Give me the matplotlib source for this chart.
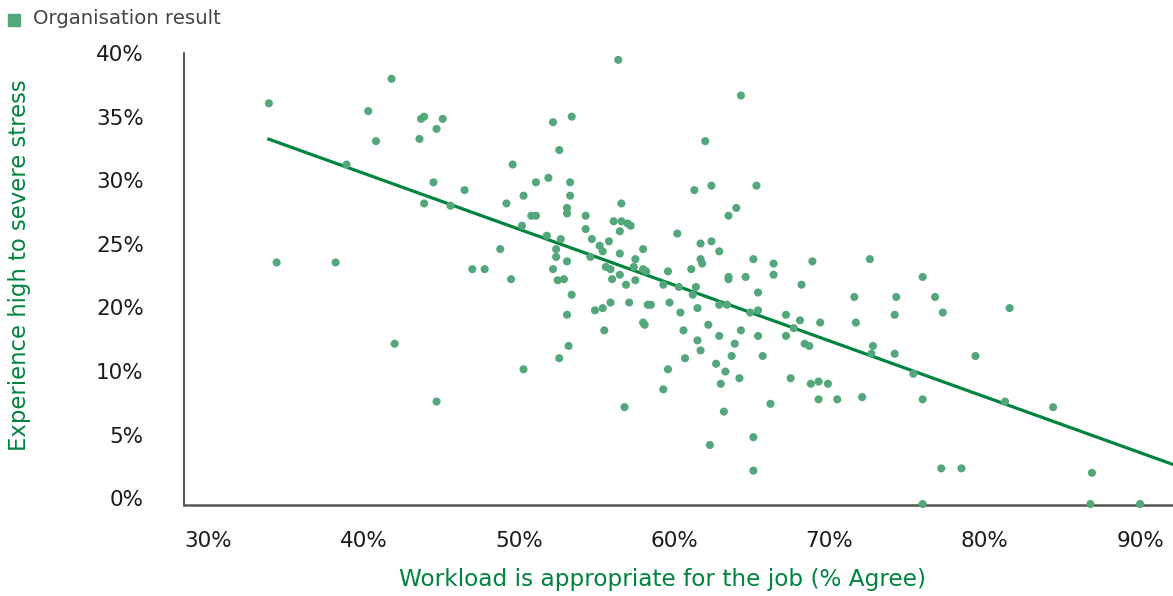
import numpy as np
import matplotlib
matplotlib.use("Agg")
import matplotlib.pyplot as plt
from matplotlib.transforms import ScaledTranslation
from matplotlib.patches import Rectangle

# Workload appropriate (% agree) vs. high-to-severe stress (%), one point per organisation
workload_agree = [
    33.9, 41.8, 40.3, 43.7, 43.9, 45.1, 44.7, 40.8, 43.6, 38.9,
    49.6, 44.5, 46.5, 43.9, 45.6, 49.2, 50.2, 48.8, 34.4, 38.2,
    47.0, 47.8, 49.5, 42.0, 44.7, 56.4, 64.3, 52.2, 53.4, 52.6,
    62.0, 51.9, 51.1, 53.3, 53.3, 50.3, 61.3, 62.4, 65.3, 56.6,
    53.1, 53.1, 50.8, 51.1, 54.3, 63.5, 64.0, 56.1, 56.6, 57.0,
    57.2, 56.5, 54.3, 51.8, 52.7, 52.4, 52.4, 54.7, 55.8, 55.2,
    55.4, 54.6, 56.5, 58.0, 57.5, 60.2, 61.7, 62.4, 62.9, 61.7,
    61.8, 65.1, 66.4, 68.9, 53.1, 52.2, 55.6, 55.9, 57.4, 58.0,
    58.2, 59.6, 61.1, 56.5, 63.5, 63.5, 64.6, 66.4, 52.9, 52.5,
    56.0, 57.5, 53.4, 53.1, 53.2, 52.6, 50.3, 56.9, 55.9, 55.4,
    54.9, 57.1, 58.3, 58.5, 55.5, 58.0, 58.1, 59.3, 59.7, 60.3,
    61.4, 61.2, 61.5, 60.4, 60.6, 62.2, 62.9, 63.4, 61.5, 61.7,
    60.7, 59.6, 59.3, 56.8, 62.9, 63.9, 64.3, 63.7, 62.7, 63.3,
    63.0, 64.2, 63.2, 62.3, 65.1, 65.1, 65.4, 64.9, 65.4, 65.4,
    65.7, 66.2, 67.2, 67.2, 67.7, 68.1, 68.2, 68.4, 68.7, 69.4,
    67.5, 68.8, 69.3, 69.9, 69.3, 70.5, 72.6, 76.0, 71.6, 74.3,
    76.8, 71.7, 74.2, 77.3, 81.6, 72.8, 72.7, 74.2, 75.4, 79.4,
    72.1, 76.0, 81.3, 84.4, 77.2, 78.5, 86.9, 76.0, 86.8, 90.0,
]
high_stress = [
    36.0, 38.2, 35.3, 34.6, 34.8, 34.6, 33.7, 32.6, 32.8, 30.5,
    30.5, 28.9, 28.2, 27.0, 26.8, 27.0, 25.0, 22.9, 21.7, 21.7,
    21.1, 21.1, 20.2, 14.4, 9.2, 39.9, 36.7, 34.3, 34.8, 31.8,
    32.6, 29.3, 28.9, 28.9, 27.7, 27.7, 28.2, 28.6, 28.6, 27.0,
    26.6, 26.1, 25.9, 25.9, 25.9, 25.9, 26.6, 25.4, 25.4, 25.2,
    25.0, 24.5, 24.7, 24.1, 23.8, 22.9, 22.2, 23.8, 23.6, 23.2,
    22.7, 22.2, 22.5, 22.9, 22.0, 24.3, 23.4, 23.6, 22.7, 22.0,
    21.6, 22.0, 21.6, 21.8, 21.8, 21.1, 21.3, 21.1, 21.3, 21.1,
    20.9, 20.9, 21.1, 20.6, 20.4, 20.2, 20.4, 20.6, 20.2, 20.1,
    20.2, 20.1, 18.8, 17.0, 14.2, 13.1, 12.1, 19.7, 18.1, 17.6,
    17.4, 18.1, 17.9, 17.9, 15.6, 16.3, 16.1, 19.7, 18.1, 19.5,
    19.5, 18.8, 17.6, 17.2, 15.6, 16.1, 17.9, 17.9, 14.7, 13.8,
    13.1, 12.1, 10.3, 8.7, 15.1, 14.4, 15.6, 13.3, 12.6, 11.9,
    10.8, 11.3, 8.3, 5.3, 6.0, 3.0, 19.0, 17.2, 17.4, 15.1,
    13.3, 9.0, 17.0, 15.1, 15.8, 16.5, 19.7, 14.4, 14.2, 16.3,
    11.3, 10.8, 11.0, 10.8, 9.4, 9.4, 22.0, 20.4, 18.6, 18.6,
    18.6, 16.3, 17.0, 17.2, 17.6, 14.2, 13.5, 13.5, 11.7, 13.3,
    9.6, 9.4, 9.2, 8.7, 3.2, 3.2, 2.8, 0.0, 0.0, 0.0,
]

x_ticks = [30, 40, 50, 60, 70, 80, 90]
y_tick_labels = ["0%", "5%", "10%", "20%", "25%", "30%", "35%", "40%"]

point_color = "#53a77b"
line_color = "#00843f"
title_green = "#00843f"
text_color = "#1a1a1a"

plt.rcParams["font.family"] = ["DejaVu Sans"]

fig = plt.figure(figsize=(11.73, 5.96), dpi=100)
ax = fig.add_axes([0.1569, 0.1527, 0.8431, 0.7584])

x = np.array(workload_agree)
y = np.array(high_stress)
ax.scatter(x, y, s=34, color=point_color, edgecolors="none", zorder=3, clip_on=False)

# Least-squares trend line, from the smallest workload value to the right edge
slope, intercept = np.polyfit(x, y, 1)
xl = np.array([x.min(), 93.0])
ax.plot(xl, intercept + slope * xl, color=line_color, lw=2.3, zorder=2)

ax.set_xlim(28.44, 92.12)
ax.set_ylim(-0.09, 40.52)

ax.set_xticks(x_ticks)
ax.set_xticklabels([f"{t}%" for t in x_ticks])
y_pos = np.linspace(0, 40, len(y_tick_labels))
ax.set_yticks(y_pos)
ax.set_yticklabels(y_tick_labels)

ax.tick_params(axis="both", length=0, labelsize=15.5, labelcolor=text_color)
ax.tick_params(axis="x", pad=19)
ax.tick_params(axis="y", pad=29)
shift = ScaledTranslation(0, 5.7 / 100, fig.dpi_scale_trans)
for lab in ax.get_yticklabels():
    lab.set_transform(lab.get_transform() + shift)

for side in ("top", "right"):
    ax.spines[side].set_visible(False)
ax.spines["left"].set_color("#222222")
ax.spines["left"].set_linewidth(1.1)
ax.spines["bottom"].set_color("#555555")
ax.spines["bottom"].set_linewidth(1.8)

fig.text(0.565, 0.027, "Workload is appropriate for the job (% Agree)",
         color=title_green, fontsize=16.7, ha="center", va="center")
fig.text(0.017, 0.555, "Experience high to severe stress",
         color=title_green, fontsize=16.4, ha="center", va="center", rotation=90)

# Legend swatch and label
fig.patches.append(Rectangle((8 / 1173, 1 - 26 / 596), 12 / 1173, 12 / 596,
                             transform=fig.transFigure, color=point_color))
fig.text(33 / 1173, 1 - 19 / 596, "Organisation result", color="#444444",
         fontsize=14.2, ha="left", va="center")

fig.savefig("out.png", dpi=100)
